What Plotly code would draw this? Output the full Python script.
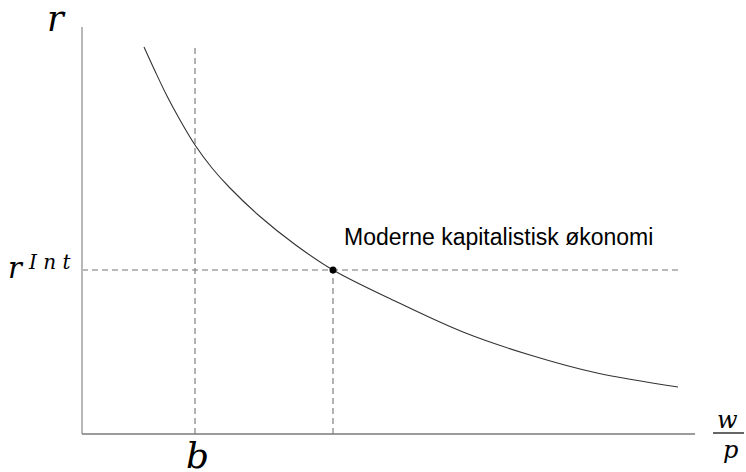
import plotly.graph_objects as go

# Curve (data units)
curve_x = [1.24, 1.46, 1.70, 1.96, 2.26, 2.60, 2.96, 3.56, 4.26, 5.02, 6.30, 7.62, 8.96, 10.30, 11.92]
curve_y = [7.74, 7.26, 6.76, 6.28, 5.78, 5.32, 4.92, 4.35, 3.79, 3.28, 2.64, 2.04, 1.58, 1.22, 0.94]

b_value = 2.26
b_top = 7.74
r_int = 3.28
w_star = 5.02
h_end = 11.96
x_max = 12.3
y_max = 8.14
point_label = "Moderne kapitalistisk økonomi"

W, H = 746, 472
L, R, T, B = 82, 49, 27, 38

def px(x):
    return (x - L) / (W - L - R)

def py(y):
    return (H - B - y) / (H - T - B)

fig = go.Figure()

dash_style = dict(color="#747474", width=1.1, dash="6px,4px")
fig.add_trace(go.Scatter(x=[b_value, b_value], y=[0, b_top], mode="lines", line=dash_style, hoverinfo="skip"))
fig.add_trace(go.Scatter(x=[0, h_end], y=[r_int, r_int], mode="lines", line=dash_style, hoverinfo="skip"))
fig.add_trace(go.Scatter(x=[w_star, w_star], y=[0, r_int], mode="lines", line=dash_style, hoverinfo="skip"))

fig.add_trace(go.Scatter(x=curve_x, y=curve_y, mode="lines",
                         line=dict(color="#333333", width=1.1, shape="spline", smoothing=1.0),
                         hoverinfo="skip"))
fig.add_trace(go.Scatter(x=[w_star], y=[r_int], mode="markers", marker=dict(color="black", size=7), hoverinfo="skip"))

# axes as shapes
fig.add_shape(type="line", xref="paper", yref="paper", x0=0, x1=0, y0=0, y1=1,
              line=dict(color="#b8b8b8", width=2))
fig.add_shape(type="line", xref="paper", yref="paper", x0=0, x1=px(695), y0=0, y1=0,
              line=dict(color="#7a7a7a", width=1.5))
# fraction bar
fig.add_shape(type="line", xref="paper", yref="paper", x0=px(713), x1=px(744), y0=py(433), y1=py(433),
              line=dict(color="black", width=1.2))

serif = "DejaVu Serif"
ann = []
ann.append(dict(text="<i>r</i>", x=px(56), y=py(19), font=dict(family=serif, size=35, color="black")))
ann.append(dict(text="<i>r</i>", x=px(16), y=py(268), font=dict(family=serif, size=29, color="black")))
ann.append(dict(text="<i>I n t</i>", x=px(49), y=py(262), font=dict(family=serif, size=20, color="black")))
ann.append(dict(text="<i>b</i>", x=px(197), y=py(456), font=dict(family=serif, size=36, color="black")))
ann.append(dict(text="<i>w</i>", x=px(728), y=py(420), font=dict(family=serif, size=24, color="black")))
ann.append(dict(text="<i>p</i>", x=px(730), y=py(450), font=dict(family=serif, size=24, color="black")))
ann.append(dict(text=point_label, x=px(342), y=py(237), xanchor="left",
                font=dict(family="Liberation Sans, Arial", size=23, color="black")))
for a in ann:
    a.setdefault("xanchor", "center")
    a.update(xref="paper", yref="paper", showarrow=False, yanchor="middle")
    fig.add_annotation(**a)

fig.update_layout(
    width=W, height=H,
    margin=dict(l=L, r=R, t=T, b=B, autoexpand=False),
    paper_bgcolor="white", plot_bgcolor="white",
    showlegend=False,
    xaxis=dict(range=[0, x_max], visible=False, fixedrange=True),
    yaxis=dict(range=[0, y_max], visible=False, fixedrange=True),
)

fig.write_html("out.html", config={"displayModeBar": False},
               post_script="document.body.style.margin='0';document.body.style.overflow='hidden';")
